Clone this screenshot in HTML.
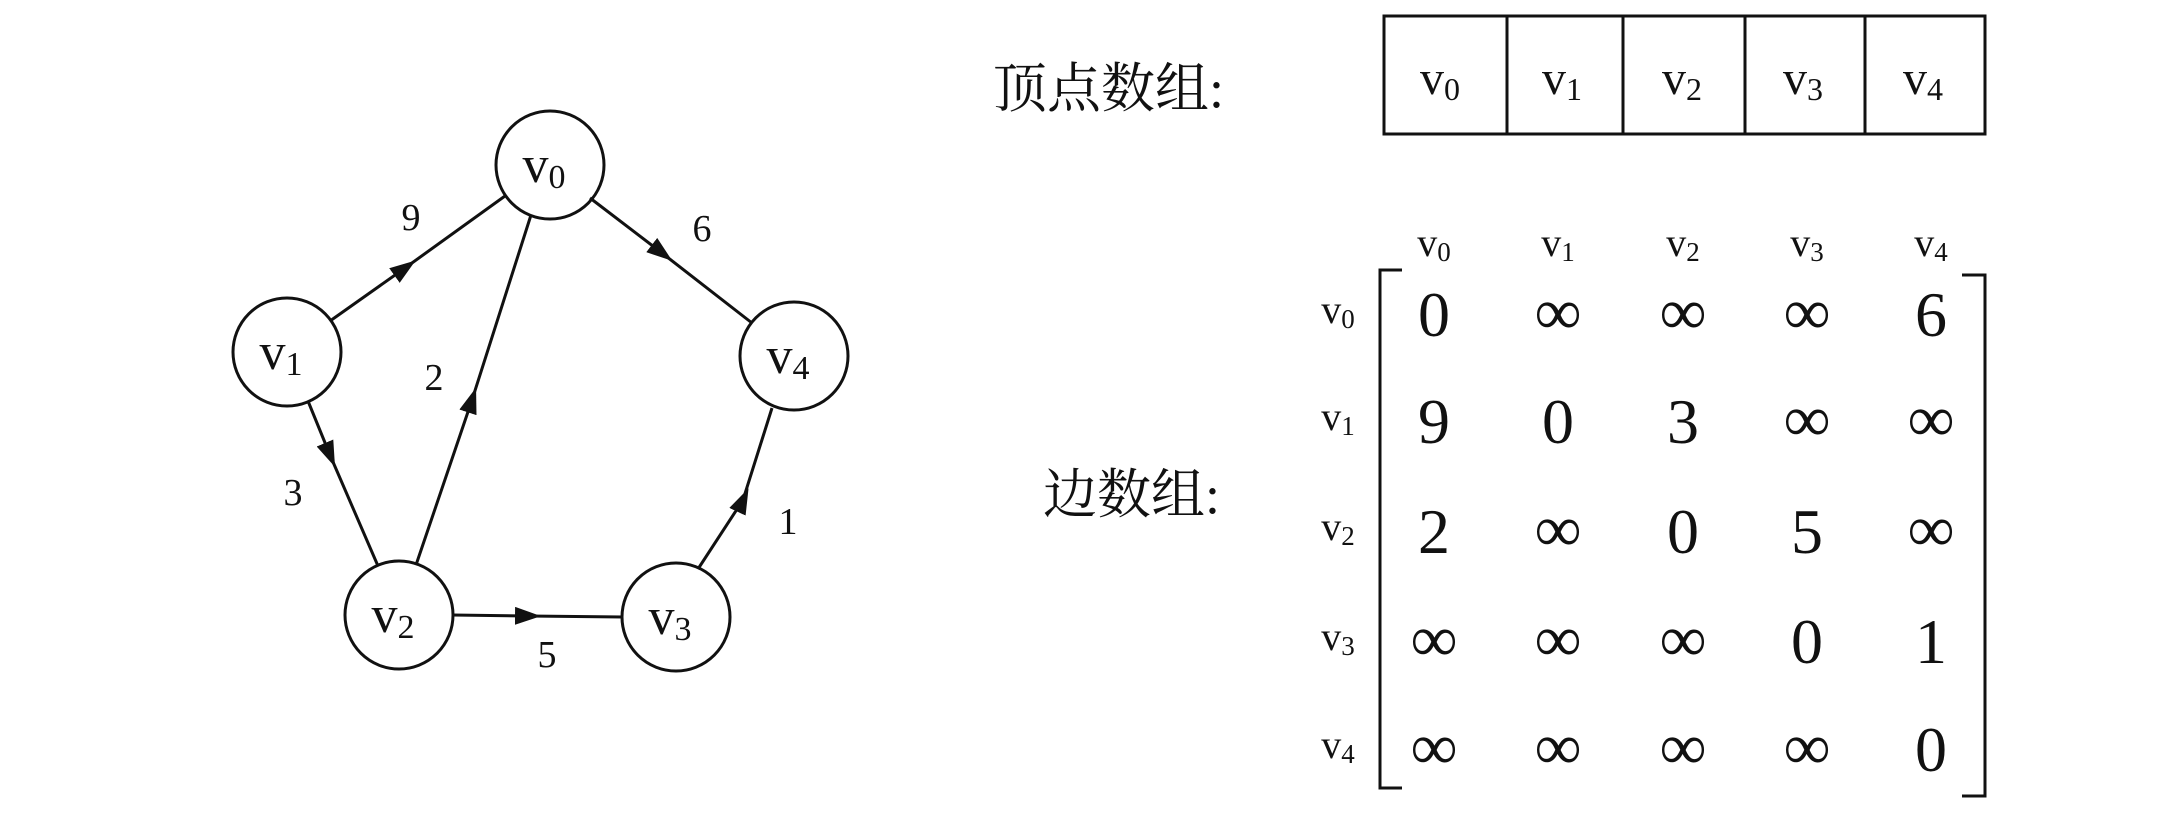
<!DOCTYPE html>
<html><head><meta charset="utf-8"><style>
html,body{margin:0;padding:0;background:#fff;}
svg{display:block;}
text{font-family:"Liberation Serif","Noto Serif CJK SC",serif;fill:#111;}
.cjk{font-family:"Liberation Serif","Noto Serif CJK SC","Noto Sans CJK SC",serif;}
</style></head><body>
<svg width="2165" height="821" viewBox="0 0 2165 821" xmlns="http://www.w3.org/2000/svg">
<defs>
<marker id="ar" markerUnits="userSpaceOnUse" markerWidth="26" markerHeight="18" refX="13" refY="9" orient="auto">
<path d="M0,0 L26,9 L0,18 z" fill="#111"/>
</marker>
</defs>
<g stroke="#111" stroke-width="3" fill="none">
<circle cx="550" cy="165" r="54"/>
<circle cx="287" cy="352" r="54"/>
<circle cx="794" cy="356" r="54"/>
<circle cx="399" cy="615" r="54"/>
<circle cx="676" cy="617" r="54"/>
<polyline points="330,321 405,268 505,196" marker-mid="url(#ar)"/>
<polyline points="590,198 662,253 752,323" marker-mid="url(#ar)"/>
<polyline points="416,565 472,400 531,215" marker-mid="url(#ar)"/>
<polyline points="308,401 330,455 378,566" marker-mid="url(#ar)"/>
<polyline points="452,615 528,616 623,617" marker-mid="url(#ar)"/>
<polyline points="698,569 743,500 772,408" marker-mid="url(#ar)"/>
</g>
<g font-size="52">
<text x="544" y="182" text-anchor="middle">v<tspan font-size="34" dy="6">0</tspan></text>
<text x="281" y="369" text-anchor="middle">v<tspan font-size="34" dy="6">1</tspan></text>
<text x="788" y="373" text-anchor="middle">v<tspan font-size="34" dy="6">4</tspan></text>
<text x="393" y="632" text-anchor="middle">v<tspan font-size="34" dy="6">2</tspan></text>
<text x="670" y="634" text-anchor="middle">v<tspan font-size="34" dy="6">3</tspan></text>
</g>
<g font-size="38" text-anchor="middle">
<text x="411" y="230">9</text>
<text x="702" y="241">6</text>
<text x="434" y="390">2</text>
<text x="293" y="505">3</text>
<text x="788" y="534">1</text>
<text x="547" y="667">5</text>
</g>
<text class="cjk" x="993" y="107" font-size="54">顶点数组:</text>
<text class="cjk" x="1043" y="513" font-size="54">边数组:</text>
<g stroke="#111" stroke-width="3" fill="none">
<rect x="1384" y="16" width="601" height="118"/>
<line x1="1507" y1="16" x2="1507" y2="134"/>
<line x1="1623" y1="16" x2="1623" y2="134"/>
<line x1="1745" y1="16" x2="1745" y2="134"/>
<line x1="1865" y1="16" x2="1865" y2="134"/>
<polyline points="1402,270 1380,270 1380,788 1402,788"/>
<polyline points="1962,275 1985,275 1985,796 1962,796"/>
</g>
<g font-size="48" text-anchor="middle">
<text x="1440" y="94">v<tspan font-size="32" dy="6">0</tspan></text>
<text x="1562" y="94">v<tspan font-size="32" dy="6">1</tspan></text>
<text x="1682" y="94">v<tspan font-size="32" dy="6">2</tspan></text>
<text x="1803" y="94">v<tspan font-size="32" dy="6">3</tspan></text>
<text x="1923" y="94">v<tspan font-size="32" dy="6">4</tspan></text>
</g>
<g font-size="40" text-anchor="middle">
<text x="1434" y="256">v<tspan font-size="27" dy="5">0</tspan></text>
<text x="1558" y="256">v<tspan font-size="27" dy="5">1</tspan></text>
<text x="1683" y="256">v<tspan font-size="27" dy="5">2</tspan></text>
<text x="1807" y="256">v<tspan font-size="27" dy="5">3</tspan></text>
<text x="1931" y="256">v<tspan font-size="27" dy="5">4</tspan></text>
<text x="1338" y="323">v<tspan font-size="27" dy="5">0</tspan></text>
<text x="1338" y="430">v<tspan font-size="27" dy="5">1</tspan></text>
<text x="1338" y="540">v<tspan font-size="27" dy="5">2</tspan></text>
<text x="1338" y="650">v<tspan font-size="27" dy="5">3</tspan></text>
<text x="1338" y="758">v<tspan font-size="27" dy="5">4</tspan></text>
</g>
<g font-size="64" text-anchor="middle">
<text x="1434" y="336">0</text><text x="1558" y="334" font-size="66">∞</text><text x="1683" y="334" font-size="66">∞</text><text x="1807" y="334" font-size="66">∞</text><text x="1931" y="336">6</text>
<text x="1434" y="443">9</text><text x="1558" y="443">0</text><text x="1683" y="443">3</text><text x="1807" y="441" font-size="66">∞</text><text x="1931" y="441" font-size="66">∞</text>
<text x="1434" y="553">2</text><text x="1558" y="551" font-size="66">∞</text><text x="1683" y="553">0</text><text x="1807" y="553">5</text><text x="1931" y="551" font-size="66">∞</text>
<text x="1434" y="661" font-size="66">∞</text><text x="1558" y="661" font-size="66">∞</text><text x="1683" y="661" font-size="66">∞</text><text x="1807" y="663">0</text><text x="1931" y="663">1</text>
<text x="1434" y="769" font-size="66">∞</text><text x="1558" y="769" font-size="66">∞</text><text x="1683" y="769" font-size="66">∞</text><text x="1807" y="769" font-size="66">∞</text><text x="1931" y="771">0</text>
</g>
</svg>
</body></html>
